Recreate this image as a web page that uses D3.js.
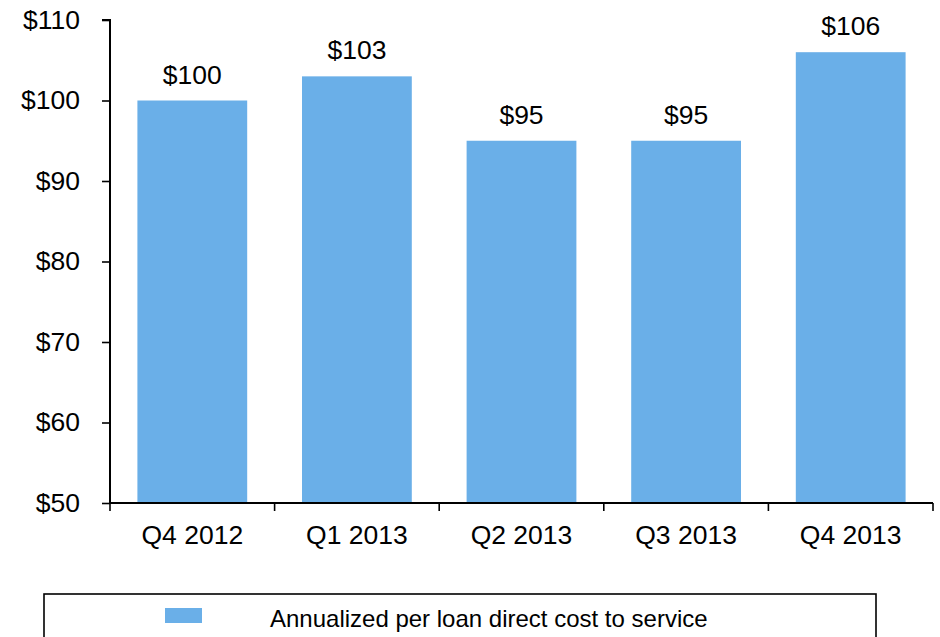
<!DOCTYPE html>
<html>
<head>
<meta charset="utf-8">
<script src="https://cdn.jsdelivr.net/npm/d3@7"></script>
<style>
  html, body { margin: 0; padding: 0; background: #fff; }
  svg { display: block; font-family: "Liberation Sans", Arial, sans-serif; }
</style>
</head>
<body>
<svg id="chart" width="940" height="637"></svg>
<script>
// Quarterly annualized per-loan direct cost to service
const quarters = ["Q4 2012", "Q1 2013", "Q2 2013", "Q3 2013", "Q4 2013"];
const costs = [100, 103, 95, 95, 106];
const yTicks = [50, 60, 70, 80, 90, 100, 110];
const seriesName = "Annualized per loan direct cost to service";

const barColor = "#6aafe8";
const svg = d3.select("#chart");

const plot = { left: 110, right: 933, top: 20, bottom: 503 };

const x = d3.scaleBand()
  .domain(quarters)
  .range([plot.left, plot.right])
  .paddingInner(0.333)
  .paddingOuter(0.1665);

const y = d3.scaleLinear()
  .domain([50, 110])
  .range([plot.bottom, plot.top]);

// Bars
svg.append("g")
  .selectAll("rect")
  .data(quarters)
  .join("rect")
  .attr("x", d => x(d))
  .attr("width", x.bandwidth())
  .attr("y", (d, i) => y(costs[i]))
  .attr("height", (d, i) => y(50) - y(costs[i]))
  .attr("fill", barColor);

// Value labels above bars
svg.append("g")
  .selectAll("text")
  .data(quarters)
  .join("text")
  .attr("x", d => x(d) + x.bandwidth() / 2)
  .attr("y", (d, i) => y(costs[i]) - 17)
  .attr("text-anchor", "middle")
  .attr("font-size", 26.5)
  .attr("fill", "#000")
  .text((d, i) => "$" + costs[i]);

// Y axis
const yAxis = d3.axisLeft(y)
  .tickValues(yTicks)
  .tickSize(8)
  .tickPadding(22)
  .tickFormat(d => "$" + d);

const gy = svg.append("g")
  .attr("transform", `translate(${plot.left},0)`)
  .call(yAxis);
gy.select(".domain").attr("stroke", "#000").attr("stroke-width", 2).attr("d", `M-8,${plot.top}H0V${plot.bottom}`);
gy.selectAll(".tick line").attr("stroke", "#000").attr("stroke-width", 1.6);
gy.selectAll(".tick text")
  .attr("font-size", 26.5)
  .attr("font-family", "Liberation Sans, Arial, sans-serif")
  .attr("fill", "#000");

// X axis: line with ticks at band boundaries
const gx = svg.append("g");
gx.append("line")
  .attr("x1", plot.left).attr("x2", plot.right)
  .attr("y1", plot.bottom).attr("y2", plot.bottom)
  .attr("stroke", "#000").attr("stroke-width", 2);
const boundaries = quarters.map((q, i) => plot.left + i * x.step());
boundaries.push(plot.right);
gx.selectAll("line.tk")
  .data(boundaries)
  .join("line")
  .attr("class", "tk")
  .attr("x1", d => d).attr("x2", d => d)
  .attr("y1", plot.bottom).attr("y2", plot.bottom + 8)
  .attr("stroke", "#000").attr("stroke-width", 1.6);
gx.selectAll("text")
  .data(quarters)
  .join("text")
  .attr("x", d => x(d) + x.bandwidth() / 2)
  .attr("y", 544)
  .attr("text-anchor", "middle")
  .attr("font-size", 26.5)
  .attr("fill", "#000")
  .text(d => d);

// Legend
const legend = svg.append("g");
legend.append("rect")
  .attr("x", 44).attr("y", 594)
  .attr("width", 832).attr("height", 60)
  .attr("fill", "#fff")
  .attr("stroke", "#000").attr("stroke-width", 1.6);
legend.append("rect")
  .attr("x", 165).attr("y", 608)
  .attr("width", 37).attr("height", 15)
  .attr("fill", barColor);
legend.append("text")
  .attr("x", 270).attr("y", 627)
  .attr("font-size", 24)
  .attr("fill", "#000")
  .text(seriesName);
</script>
</body>
</html>
